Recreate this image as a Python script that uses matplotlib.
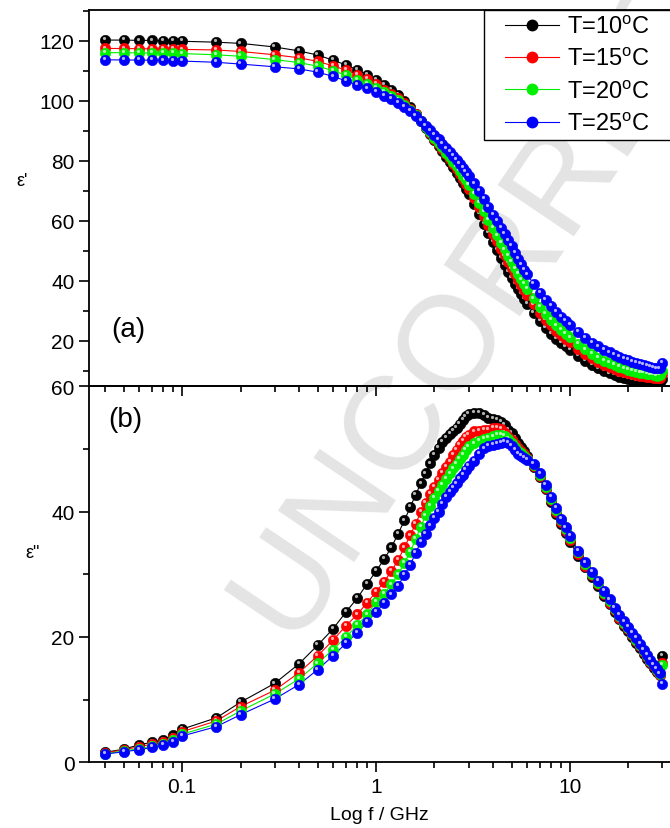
import numpy as np
import matplotlib
matplotlib.use('Agg')
import matplotlib.pyplot as plt
from matplotlib.lines import Line2D
from matplotlib.legend_handler import HandlerLine2D
from matplotlib.transforms import offset_copy
from matplotlib.ticker import MultipleLocator, NullFormatter, FixedLocator, FixedFormatter

plt.rcParams['font.family'] = ['Liberation Sans', 'DejaVu Sans']
plt.rcParams['mathtext.fontset'] = 'custom'
plt.rcParams['mathtext.rm'] = 'Liberation Sans'

# frequency points (GHz)
freq = [0.04, 0.05, 0.06, 0.07, 0.08, 0.09, 0.1, 0.15, 0.2, 0.3, 0.4, 0.5, 0.6, 0.7, 0.8, 0.9, 1.0,
        1.1, 1.2, 1.3, 1.4, 1.5, 1.6, 1.7, 1.8, 1.9, 2.0, 2.1, 2.2, 2.3, 2.4, 2.5, 2.6, 2.7, 2.8, 2.9, 3.0,
        3.2, 3.4, 3.6, 3.8, 4.0, 4.2, 4.4, 4.6, 4.8, 5.0, 5.2, 5.4, 5.6, 5.8, 6.0,
        6.5, 7.0, 7.5, 8.0, 8.5, 9.0, 9.5, 10,
        11, 12, 13, 14, 15, 16, 17, 18, 19, 20, 21, 22, 23, 24, 25, 26, 27, 28, 29, 30]

labels = ['T=10$^\\mathrm{o}$C', 'T=15$^\\mathrm{o}$C', 'T=20$^\\mathrm{o}$C', 'T=25$^\\mathrm{o}$C']
colors = ['#000000', '#ff0000', '#00ee00', '#0000ff']

# epsilon' (real part)
e1_10 = [120.2, 120.2, 120.1, 120.1, 120.0, 119.9, 119.8, 119.5, 119.1, 117.9, 116.6, 115.2, 113.5, 111.9, 110.3, 108.6, 106.8,
         105.3, 103.7, 101.9, 99.9, 97.8, 95.6, 93.2, 90.9, 88.8, 86.8, 84.9, 83.1, 81.3, 79.5, 77.8, 76.0, 74.2, 72.4, 70.6, 68.8,
         65.6, 62.2, 59.0, 55.9, 53.0, 50.3, 47.7, 45.3, 43.0, 40.9, 39.0, 37.2, 35.5, 33.9, 32.4,
         29.2, 26.5, 24.2, 22.3, 20.7, 19.3, 18.1, 17.0,
         15.0, 13.3, 11.9, 10.8, 9.9, 9.1, 8.5, 8.0, 7.6, 7.3, 7.0, 6.8, 6.6, 6.5, 6.4, 6.3, 6.2, 6.1, 6.3, 7.4]
e1_15 = [117.4, 117.4, 117.3, 117.3, 117.2, 117.2, 117.1, 116.9, 116.4, 115.3, 114.3, 113.1, 111.6, 110.2, 108.7, 107.2, 105.5,
         103.7, 102.3, 100.8, 99.1, 97.3, 95.4, 93.2, 91.1, 89.2, 87.3, 85.6, 83.9, 82.1, 80.5, 78.9, 77.3, 75.6, 74.0, 72.3, 70.7,
         67.6, 64.5, 61.5, 58.5, 55.7, 53.2, 50.7, 48.4, 46.1, 44.1, 42.1, 40.2, 38.5, 36.8, 35.3,
         32.1, 29.3, 27.0, 25.1, 23.4, 21.9, 20.6, 19.5,
         17.4, 15.6, 14.1, 13.0, 12.0, 11.2, 10.5, 10.0, 9.5, 9.2, 8.8, 8.5, 8.3, 8.1, 8.0, 7.8, 7.6, 7.5, 7.6, 8.9]
e1_20 = [116.0, 116.0, 115.9, 115.9, 115.8, 115.8, 115.7, 115.3, 114.8, 113.7, 112.7, 111.5, 110.0, 108.5, 107.0, 105.7, 104.2,
         103.0, 101.7, 100.2, 98.7, 97.0, 95.2, 93.3, 91.3, 89.5, 87.7, 86.0, 84.4, 82.7, 81.2, 79.7, 78.1, 76.6, 75.0, 73.5, 71.9,
         69.0, 66.0, 63.1, 60.3, 57.5, 55.1, 52.7, 50.4, 48.2, 46.2, 44.1, 42.2, 40.4, 38.8, 37.2,
         34.1, 31.2, 28.9, 26.9, 25.1, 23.6, 22.3, 21.1,
         19.0, 17.1, 15.6, 14.4, 13.4, 12.6, 11.9, 11.3, 10.8, 10.4, 10.0, 9.7, 9.4, 9.2, 9.0, 8.8, 8.6, 8.4, 8.5, 10.0]
e1_25 = [113.6, 113.6, 113.5, 113.5, 113.4, 113.3, 113.2, 112.8, 112.2, 111.3, 110.6, 109.5, 108.1, 106.6, 105.2, 104.1, 102.8,
         101.7, 100.5, 99.3, 98.0, 96.6, 95.0, 93.3, 91.7, 90.1, 88.6, 87.1, 85.6, 84.1, 82.8, 81.5, 80.2, 78.9, 77.6, 76.3, 75.0,
         72.4, 69.8, 67.2, 64.6, 62.0, 59.8, 57.6, 55.5, 53.4, 51.5, 49.2, 47.2, 45.4, 43.7, 42.1,
         39.0, 36.0, 33.6, 31.5, 29.6, 28.0, 26.5, 25.2,
         23.0, 21.0, 19.4, 18.1, 17.0, 16.1, 15.3, 14.6, 14.0, 13.5, 13.0, 12.6, 12.2, 11.9, 11.6, 11.3, 11.0, 10.8, 10.8, 12.5]

# epsilon'' (imaginary part)
e2_10 = [1.6, 2.1, 2.8, 3.2, 3.6, 4.3, 5.3, 7.1, 9.6, 12.6, 15.7, 18.7, 21.3, 24.0, 26.2, 28.5, 30.5,
         32.4, 34.3, 36.5, 38.6, 40.7, 42.7, 44.5, 46.1, 47.7, 49.1, 50.2, 51.1, 51.8, 52.4, 52.9, 53.4, 54.0, 54.6, 55.2, 55.6,
         55.8, 55.7, 55.4, 55.0, 54.8, 54.6, 54.3, 53.8, 53.1, 52.6, 51.8, 51.0, 50.3, 49.6, 48.9,
         47.2, 45.5, 43.6, 41.5, 39.7, 38.0, 36.6, 35.2,
         33.0, 31.1, 29.6, 28.1, 26.6, 25.2, 24.0, 22.8, 21.8, 20.9, 20.0, 19.1, 18.2, 17.3, 16.5, 15.8, 15.1, 14.4, 13.9, 17.0]
e2_15 = [1.5, 2.0, 2.5, 2.9, 3.3, 3.9, 4.9, 6.6, 8.9, 11.5, 14.3, 17.0, 19.5, 21.8, 23.6, 25.5, 27.2,
         28.8, 30.5, 32.3, 34.3, 36.2, 38.1, 39.9, 41.4, 42.8, 44.0, 45.1, 46.2, 47.1, 48.0, 49.0, 49.9, 50.7, 51.3, 51.9, 52.3,
         52.8, 52.9, 53.0, 53.1, 53.3, 53.4, 53.2, 52.6, 51.9, 51.4, 50.8, 50.2, 49.7, 49.2, 48.6,
         47.3, 45.7, 43.8, 41.8, 40.0, 38.3, 36.9, 35.5,
         33.3, 31.4, 29.9, 28.4, 26.9, 25.5, 24.3, 23.1, 22.1, 21.2, 20.3, 19.4, 18.5, 17.6, 16.8, 16.0, 15.3, 14.6, 14.0, 15.8]
e2_20 = [1.4, 1.8, 2.2, 2.6, 3.0, 3.5, 4.5, 6.1, 8.2, 10.9, 13.3, 15.8, 18.0, 20.0, 21.9, 23.6, 25.6,
         26.9, 28.4, 30.0, 31.8, 33.6, 35.6, 37.6, 39.4, 40.9, 42.2, 43.3, 44.3, 45.2, 46.1, 46.9, 47.6, 48.4, 49.1, 49.8, 50.4,
         50.9, 51.3, 51.6, 51.8, 52.0, 52.2, 52.3, 52.1, 51.6, 51.0, 50.3, 49.7, 49.3, 48.9, 48.4,
         47.4, 45.9, 44.0, 42.0, 40.3, 38.6, 37.2, 35.8,
         33.5, 31.6, 30.1, 28.6, 27.1, 25.7, 24.5, 23.3, 22.3, 21.4, 20.5, 19.6, 18.7, 17.8, 17.0, 16.2, 15.5, 14.8, 14.1, 15.5]
e2_25 = [1.3, 1.7, 2.0, 2.4, 2.8, 3.3, 4.2, 5.7, 7.6, 10.1, 12.4, 14.8, 17.0, 19.0, 20.7, 22.4, 24.0,
         25.4, 26.8, 28.2, 29.9, 31.5, 33.4, 35.2, 36.5, 37.8, 39.0, 40.0, 41.2, 42.3, 43.2, 43.8, 44.5, 45.3, 45.9, 46.7, 47.3,
         48.1, 49.2, 50.1, 50.5, 50.7, 50.8, 51.0, 51.1, 51.0, 50.5, 49.8, 49.2, 48.9, 48.6, 48.2,
         47.6, 46.1, 44.3, 42.3, 40.6, 38.9, 37.5, 36.1,
         33.8, 31.9, 30.4, 28.9, 27.4, 26.0, 24.7, 23.5, 22.5, 21.6, 20.7, 19.8, 18.9, 18.0, 17.2, 16.4, 15.6, 14.9, 14.2, 12.5]

fig = plt.figure(figsize=(6.7, 8.29), dpi=100)
ax1 = fig.add_axes([0.1333, 0.5328, 0.8667, 0.4542])
ax2 = fig.add_axes([0.1333, 0.0792, 0.8667, 0.4536])

# watermark behind everything
fig.text(552/670, 1-192/829, 'UNCORRECTED', fontsize=96, color='#e4e4e4',
         rotation=56, ha='center', va='center', rotation_mode='anchor', zorder=-5)

MS = 7.5


def balls(ax, y, col):
    ax.plot(freq, y, '-', color=col, lw=0.8, zorder=2)
    ax.plot(freq, y, 'o', ms=MS, mfc=col, mec=col, mew=0.4, ls='none', zorder=3)
    tr = offset_copy(ax.transData, fig=fig, x=-0.9, y=1.3, units='points')
    ax.plot(freq, y, 'o', ms=2.3, mfc='white', mec='none', alpha=0.7, ls='none',
            transform=tr, zorder=3)


for ys, c in zip([e1_10, e1_15, e1_20, e1_25], colors):
    balls(ax1, ys, c)
for ys, c in zip([e2_10, e2_15, e2_20, e2_25], colors):
    balls(ax2, ys, c)

for ax in (ax1, ax2):
    ax.set_facecolor('none')
    ax.set_xscale('log')
    ax.set_xlim(0.0332, 32.8)
    ax.spines['right'].set_visible(False)
    for s in ('left', 'top', 'bottom'):
        ax.spines[s].set_linewidth(1.3)
    ax.tick_params(which='major', direction='out', length=7, width=1.2, labelsize=15)
    ax.tick_params(which='minor', direction='out', length=4, width=1.2)
    ax.xaxis.set_minor_formatter(NullFormatter())
    ax.yaxis.set_major_locator(MultipleLocator(20))
    ax.yaxis.set_minor_locator(MultipleLocator(10))

ax1.set_ylim(4.8, 130.3)
ax1.tick_params(labelbottom=False)
ax2.set_ylim(0, 60)
ax2.xaxis.set_major_locator(FixedLocator([0.1, 1, 10]))
ax2.xaxis.set_major_formatter(FixedFormatter(['0.1', '1', '10']))
ax1.xaxis.set_major_locator(FixedLocator([0.1, 1, 10]))

ax1.set_ylabel("\u03b5'", fontsize=13, rotation=0)
ax1.yaxis.set_label_coords(-0.116, 0.524)
ax2.set_ylabel('\u03b5"', fontsize=13, rotation=0)
ax2.yaxis.set_label_coords(-0.097, 0.535)
ax2.set_xlabel('Log f / GHz', fontsize=14, labelpad=7)

fig.text(128/670, 1-330/829, '(a)', fontsize=20, ha='center', va='center')
fig.text(125/670, 1-420/829, '(b)', fontsize=20, ha='center', va='center')

handles = [Line2D([0], [0], color=c, lw=0.8, marker='o', ms=MS, mfc=c, mec=c) for c in colors]
x0 = (484 - 89.3) / 580.7
leg = ax1.legend(handles, labels, loc='upper left', bbox_to_anchor=(x0, 0, 0.36, 1.0),
                 mode='expand', borderaxespad=0, fontsize=17, fancybox=False,
                 edgecolor='black', framealpha=1, handlelength=2.95, handletextpad=0.34,
                 labelspacing=0.4, borderpad=0.22, numpoints=1,
                 handler_map={Line2D: HandlerLine2D(xpad=0.69)})
leg.get_frame().set_linewidth(1.0)

fig.savefig('out.png', dpi=100)
